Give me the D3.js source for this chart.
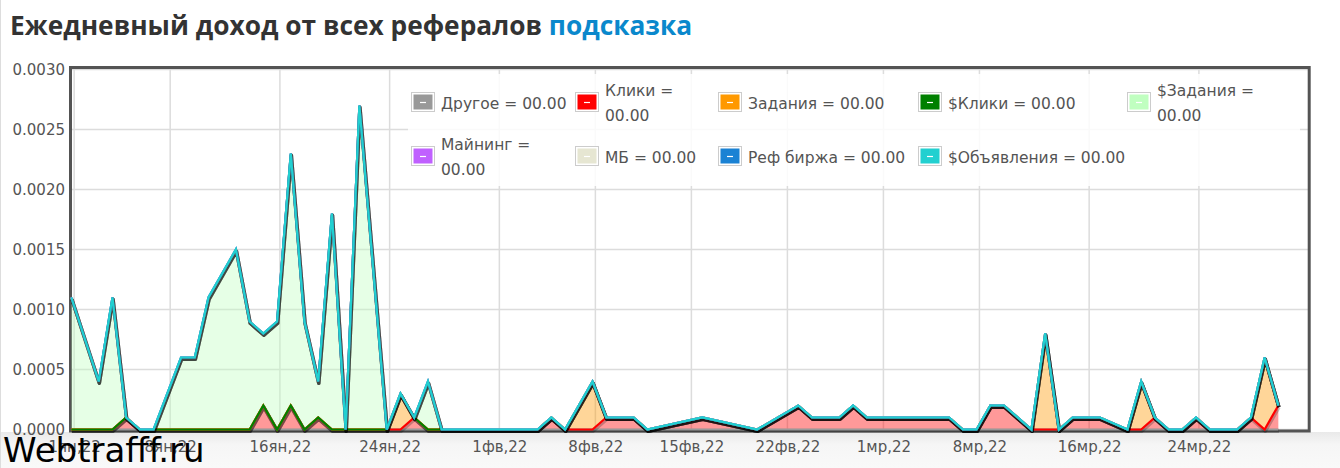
<!DOCTYPE html>
<html>
<head>
<meta charset="utf-8">
<script src="https://cdn.jsdelivr.net/npm/d3@7"></script>
<style>
    body { margin: 0; background: #fff; }
    svg { display: block; font-family: "DejaVu Sans", Verdana, sans-serif; }
</style>
</head>
<body>
<div id="chart"></div>
<script>
// dates of the points (days without a point are joined by a straight line, as in the original)
const dates = [
    "2022-01-01", "2022-01-03", "2022-01-04", "2022-01-05", "2022-01-06", "2022-01-07", "2022-01-09", "2022-01-10",
    "2022-01-11", "2022-01-13", "2022-01-14", "2022-01-15", "2022-01-16", "2022-01-17", "2022-01-18", "2022-01-19",
    "2022-01-20", "2022-01-21", "2022-01-22", "2022-01-24", "2022-01-25", "2022-01-26", "2022-01-27", "2022-01-28",
    "2022-02-04", "2022-02-05", "2022-02-06", "2022-02-08", "2022-02-09", "2022-02-11", "2022-02-12", "2022-02-16",
    "2022-02-20", "2022-02-23", "2022-02-24", "2022-02-26", "2022-02-27", "2022-02-28", "2022-03-06", "2022-03-07",
    "2022-03-08", "2022-03-09", "2022-03-10", "2022-03-12", "2022-03-13", "2022-03-14", "2022-03-15", "2022-03-17",
    "2022-03-19", "2022-03-20", "2022-03-21", "2022-03-22", "2022-03-23", "2022-03-24", "2022-03-25", "2022-03-27",
    "2022-03-28", "2022-03-29", "2022-03-30"
];

// series, in stacking order
const seriesNames = ["Другое", "Клики", "Задания", "$Клики", "$Задания", "Майнинг", "МБ", "Реф биржа", "$Объявления"];
const seriesColors = ["#999999", "#ff0000", "#ff9900", "#008000", "#c0ffc0", "#c060ff", "#e6e6d2", "#1a82d4", "#22d0d0"];
const legendValues = ["00.00", "00.00", "00.00", "00.00", "00.00", "00.00", "00.00", "00.00", "00.00"];

const zeros = dates.map(() => 0);
const other = zeros;
const clicks = [
    0, 0, 0, 0.0001, 0, 0, 0, 0,
    0, 0, 0, 0.0002, 0, 0.0002, 0, 0.0001,
    0, 0, 0, 0, 0, 0.0001, 0, 0,
    0, 0.0001, 0, 0, 0.0001, 0.0001, 0, 0.0001,
    0, 0.0002, 0.0001, 0.0001, 0.0002, 0.0001, 0.0001, 0,
    0, 0.0002, 0.0002, 0, 0, 0, 0.0001, 0.0001,
    0, 0, 0.0001, 0, 0, 0.0001, 0, 0,
    0.0001, 0, 0.0002
];
const tasks = [
    0, 0, 0, 0, 0, 0, 0, 0,
    0, 0, 0, 0, 0, 0, 0, 0,
    0, 0, 0, 0, 0.0003, 0, 0, 0,
    0, 0, 0, 0.0004, 0, 0, 0, 0,
    0, 0, 0, 0, 0, 0, 0, 0,
    0, 0, 0, 0, 0.0008, 0, 0, 0,
    0, 0.0004, 0, 0, 0, 0, 0, 0,
    0, 0.0006, 0
];
const dClicks = zeros;
const dTasks = [
    0.0011, 0.0004, 0.0011, 0, 0, 0, 0.0006, 0.0006,
    0.0011, 0.0015, 0.0009, 0.0006, 0.0009, 0.0021, 0.0009, 0.0003,
    0.0018, 0, 0.0027, 0, 0, 0, 0.0004, 0,
    0, 0, 0, 0, 0, 0, 0, 0,
    0, 0, 0, 0, 0, 0, 0, 0,
    0, 0, 0, 0, 0, 0, 0, 0,
    0, 0, 0, 0, 0, 0, 0, 0,
    0, 0, 0
];
const mining = zeros;
const mb = zeros;
const refExchange = zeros;
const dAds = zeros;
const seriesValues = [other, clicks, tasks, dClicks, dTasks, mining, mb, refExchange, dAds];

const yTicks = [0, 0.0005, 0.001, 0.0015, 0.002, 0.0025, 0.003];
const xTickDates = ["2022-01-01", "2022-01-08", "2022-01-16", "2022-01-24", "2022-02-01", "2022-02-08",
    "2022-02-15", "2022-02-22", "2022-03-01", "2022-03-08", "2022-03-16", "2022-03-24"];
const xTickLabels = ["1ян,22", "8ян,22", "16ян,22", "24ян,22", "1фв,22", "8фв,22",
    "15фв,22", "22фв,22", "1мр,22", "8мр,22", "16мр,22", "24мр,22"];

// layout
const W = 1340, H = 468;
const plot = { left: 70.5, top: 67.5, right: 1309.2, bottom: 431 };
const parseDay = d3.timeParse("%Y-%m-%d");

const svg = d3.select("#chart").append("svg")
    .attr("width", W)
    .attr("height", H);

// page background
const grad = svg.append("defs").append("linearGradient")
    .attr("id", "band").attr("x1", 0).attr("x2", 0).attr("y1", 0).attr("y2", 1);
grad.append("stop").attr("offset", "0%").attr("stop-color", "#e9e9e9");
grad.append("stop").attr("offset", "35%").attr("stop-color", "#f6f6f6");
grad.append("stop").attr("offset", "100%").attr("stop-color", "#f9f9f9");
svg.append("rect").attr("width", W).attr("height", H).attr("fill", "#ffffff");
svg.append("rect").attr("x", 0).attr("y", 432).attr("width", W).attr("height", H - 432).attr("fill", "url(#band)");
svg.append("line").attr("x1", 0.5).attr("x2", 0.5).attr("y1", 0).attr("y2", H)
    .attr("stroke", "#dddddd");

// title
const title = svg.append("text")
    .attr("x", 10).attr("y", 34.5)
    .style("font-family", "'Open Sans', sans-serif")
    .style("font-weight", "bold")
    .style("font-size", "26.3px");
title.append("tspan").attr("fill", "#333333").text("Ежедневный доход от всех рефералов ");
title.append("tspan").attr("fill", "#0a88cc").text("подсказка");

// scales
const x = d3.scaleTime()
    .domain([new Date(2022, 0, 1), new Date(2022, 3, 1, 6)])
    .range([71.3, plot.right]);
const y = d3.scaleLinear()
    .domain([0, 0.003])
    .range([429.5, 69.5]);

// stacked data
const rows = dates.map(function (d, i) {
    const row = { date: parseDay(d) };
    seriesNames.forEach(function (name, k) { row[name] = seriesValues[k][i]; });
    return row;
});
const layers = d3.stack().keys(seriesNames)(rows);

// plot background and grid
svg.append("rect")
    .attr("x", plot.left).attr("y", plot.top)
    .attr("width", plot.right - plot.left).attr("height", plot.bottom - plot.top)
    .attr("fill", "#ffffff");

const tickDates = xTickDates.map(d => d3.timeHour.offset(parseDay(d), 5));

svg.append("g").selectAll("line.h")
    .data(yTicks)
    .join("line")
    .attr("x1", plot.left).attr("x2", plot.right)
    .attr("y1", d => y(d)).attr("y2", d => y(d))
    .attr("stroke", "#dcdcdc").attr("stroke-width", 1.5);
svg.append("g").selectAll("line.v")
    .data(tickDates)
    .join("line")
    .attr("x1", d => x(d)).attr("x2", d => x(d))
    .attr("y1", plot.top).attr("y2", plot.bottom)
    .attr("stroke", "#dcdcdc").attr("stroke-width", 1.5);

// plot border
svg.append("rect")
    .attr("x", plot.left).attr("y", plot.top)
    .attr("width", plot.right - plot.left).attr("height", plot.bottom - plot.top)
    .attr("fill", "none")
    .attr("stroke", "#545454").attr("stroke-width", 3);

// clip
svg.append("clipPath").attr("id", "clip")
    .append("rect")
    .attr("x", plot.left).attr("y", plot.top - 2)
    .attr("width", plot.right - plot.left).attr("height", plot.bottom - plot.top + 4);
const g = svg.append("g").attr("clip-path", "url(#clip)");

// filled areas
const area = d3.area()
    .x(d => x(d.data.date))
    .y0(d => y(d[0]))
    .y1(d => y(d[1]));
g.selectAll("path.area")
    .data(layers)
    .join("path")
    .attr("class", "area")
    .attr("fill", (d, i) => seriesColors[i])
    .attr("fill-opacity", 0.4)
    .attr("d", area);

// lines with shadow, one series after the other
const line = d3.line()
    .x(d => x(d.data.date))
    .y(d => y(d[1]));
layers.forEach(function (layer, i) {
    g.append("path")
        .datum(layer)
        .attr("fill", "none")
        .attr("stroke", "rgba(0,0,0,0.22)")
        .attr("stroke-width", 3.5)
        .attr("stroke-linejoin", "round")
        .attr("transform", "translate(0.6,1.8)")
        .attr("d", line);
    g.append("path")
        .datum(layer)
        .attr("fill", "none")
        .attr("stroke", seriesColors[i])
        .attr("stroke-width", 2.2)
        .attr("d", line);
});

// axes
const yAxis = svg.append("g")
    .attr("transform", "translate(70,0)")
    .call(d3.axisLeft(y).tickValues(yTicks).tickFormat(d3.format(".4f")).tickSize(0).tickPadding(5));
yAxis.select(".domain").remove();
yAxis.selectAll("text")
    .attr("fill", "#545454")
    .style("font-family", "'DejaVu Sans', Verdana, sans-serif")
    .style("font-size", "15px");

const xAxis = svg.append("g")
    .attr("transform", "translate(0,432)")
    .call(d3.axisBottom(x).tickValues(tickDates).tickFormat((d, i) => xTickLabels[i]).tickSize(0).tickPadding(9.5));
xAxis.select(".domain").remove();
xAxis.selectAll("text")
    .attr("fill", "#545454")
    .style("font-family", "'DejaVu Sans', Verdana, sans-serif")
    .style("font-size", "15px");

// legend
const legendCols = [411, 575, 718, 918, 1127];
const legendRows = [102, 156];
const legendMaxW = [128, 100, 160, 200, 120];
const legend = svg.append("g");
legend.append("rect")
    .attr("x", 408).attr("y", 74)
    .attr("width", 892).attr("height", 112)
    .attr("fill", "#ffffff").attr("fill-opacity", 0.85);

seriesNames.forEach(function (name, i) {
    const col = i % 5, row = Math.floor(i / 5);
    const lx = legendCols[col], cy = legendRows[row];
    const item = legend.append("g");
    item.append("rect")
        .attr("x", lx + 0.5).attr("y", cy - 9.5)
        .attr("width", 23).attr("height", 19)
        .attr("fill", "#ffffff").attr("stroke", "#cccccc");
    item.append("rect")
        .attr("x", lx + 2.5).attr("y", cy - 7.5)
        .attr("width", 19).attr("height", 15)
        .attr("fill", seriesColors[i]);
    item.append("line")
        .attr("x1", lx + 9).attr("x2", lx + 15)
        .attr("y1", cy + 0.5).attr("y2", cy + 0.5)
        .attr("stroke", "#ffffff").attr("stroke-width", 1.2);

    const text = item.append("text")
        .attr("x", lx + 30)
        .attr("fill", "#545454")
        .style("font-size", "15.5px");
    const full = name + " = " + legendValues[i];
    text.text(full);
    let lines = [full];
    if (text.node().getComputedTextLength() > legendMaxW[col]) {
        // greedy word wrap
        const words = full.split(" ");
        lines = [];
        let cur = "";
        words.forEach(function (w) {
            const test = cur ? cur + " " + w : w;
            text.text(test);
            if (cur && text.node().getComputedTextLength() > legendMaxW[col]) {
                lines.push(cur);
                cur = w;
            } else {
                cur = test;
            }
        });
        lines.push(cur);
    }
    text.text(null);
    const lh = 24.5;
    const base = cy + 6.5 - (lines.length - 1) * lh / 2;
    lines.forEach(function (l, k) {
        text.append("tspan").attr("x", lx + 30).attr("y", base + k * lh).text(l);
    });
});

// watermark
svg.append("text")
    .attr("x", 3).attr("y", 462)
    .attr("fill", "#000000")
    .style("font-family", "'Comic Sans MS', 'DejaVu Sans', sans-serif")
    .style("font-size", "34px")
    .text("Webtrafff.ru");
</script>
</body>
</html>
